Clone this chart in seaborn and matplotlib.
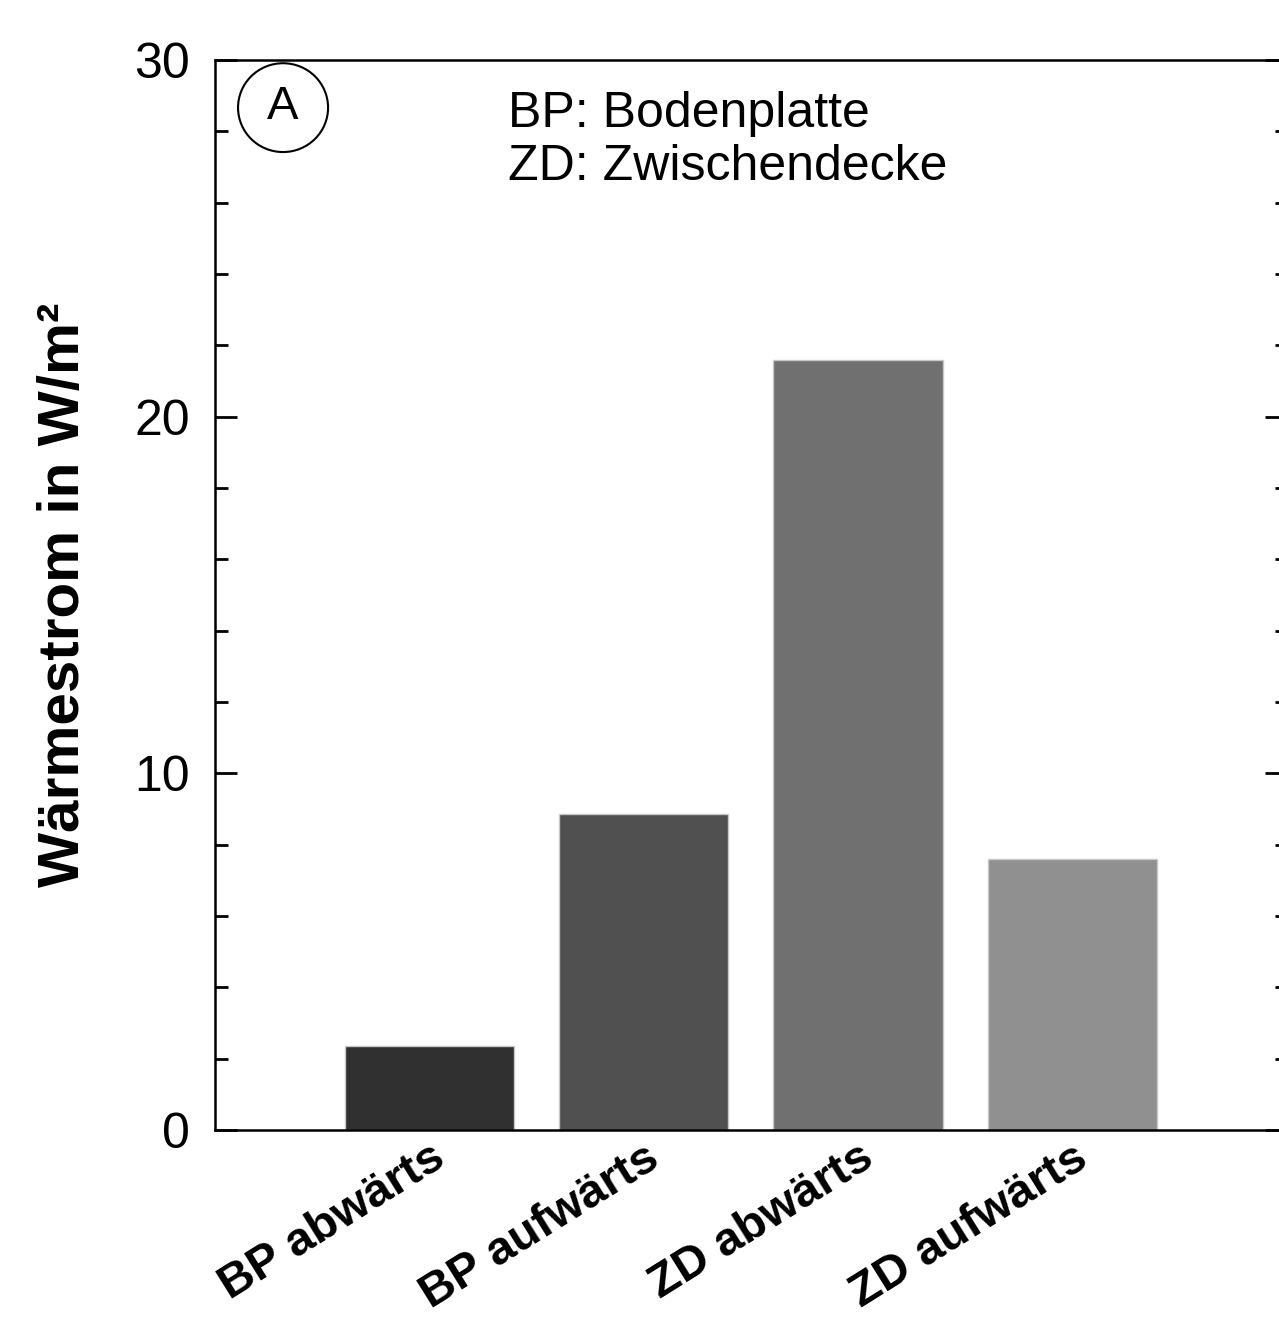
import pandas as pd
import matplotlib.pyplot as plt
import seaborn as sns
from matplotlib.patches import Ellipse
from matplotlib.ticker import MultipleLocator

# Data
categories = ['BP abwärts', 'BP aufwärts', 'ZD abwärts', 'ZD aufwärts']
heat_flux = [2.35, 8.85, 21.6, 7.6]
bar_colors = ['#303030', '#505050', '#707070', '#909090']
y_ticks = [0, 10, 20, 30]

df = pd.DataFrame({'case': categories, 'flux': heat_flux})

sns.set_style("white")
plt.rcParams['font.family'] = ['Liberation Sans', 'DejaVu Sans']
plt.rcParams['text.color'] = 'black'
plt.rcParams['axes.labelcolor'] = 'black'
plt.rcParams['xtick.color'] = 'black'
plt.rcParams['ytick.color'] = 'black'

fig = plt.figure(figsize=(12.79, 13.22), dpi=100)
ax = fig.add_axes([0.1681, 0.1452, 0.838, 0.8094])

sns.barplot(data=df, x='case', y='flux', hue='case', palette=bar_colors,
            legend=False, width=0.79, edgecolor='#c8c8c8', linewidth=1, ax=ax)

ax.set_xlim(-1, 4)
ax.set_ylim(0, 30)
ax.set_yticks(y_ticks)
ax.yaxis.set_minor_locator(MultipleLocator(2))
ax.tick_params(axis='y', which='major', direction='in', length=16, width=2,
               labelsize=36, pad=18, right=True, left=True)
ax.tick_params(axis='y', which='minor', direction='in', length=9, width=2,
               right=True, left=True)
ax.tick_params(axis='x', length=0, pad=4)
for sp in ax.spines.values():
    sp.set_linewidth(1.8)
    sp.set_color('black')

ax.set_xticks(range(len(categories)))
ax.set_xticklabels(categories, rotation=32, ha='right', rotation_mode='anchor',
                   fontsize=34, fontweight='bold')
ax.set_xlabel('')
ax.set_ylabel('Wärmestrom in W/m²', fontsize=42, fontweight='bold')
ax.yaxis.set_label_coords(-0.116, 0.5)

# Panel label and abbreviation note
ax.add_patch(Ellipse((0.0635, 0.9555), 0.084, 0.083, transform=ax.transAxes,
                     fill=False, edgecolor='black', linewidth=1.5))
ax.text(0.0635, 0.956, 'A', transform=ax.transAxes, ha='center', va='center',
        fontsize=34)
ax.text(0.273, 0.925, 'BP: Bodenplatte\nZD: Zwischendecke', transform=ax.transAxes,
        ha='left', va='center', fontsize=36, linespacing=1.2)

plt.savefig('out.png', dpi=100)
